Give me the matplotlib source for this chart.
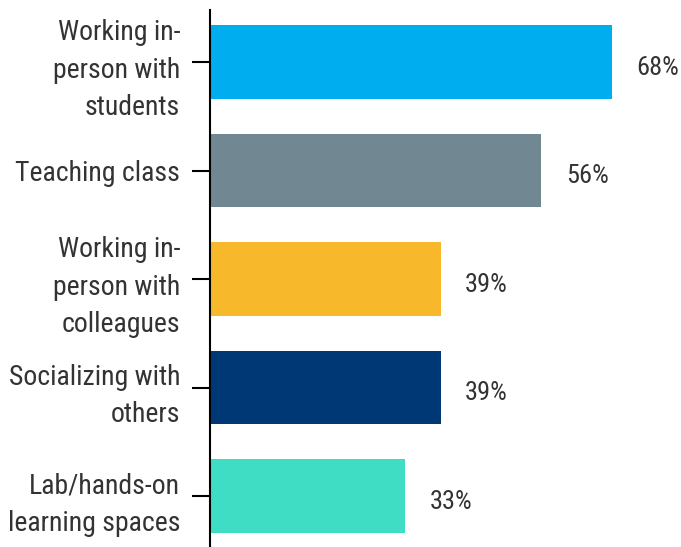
import numpy as np
import matplotlib.pyplot as plt

categories = ["Working in-\nperson with\nstudents", "Teaching class",
              "Working in-\nperson with\ncolleagues", "Socializing with\nothers",
              "Lab/hands-on\nlearning spaces"]
values = [68, 56, 39, 39, 33]
colors = ["#00AEEF", "#718792", "#F7B92B", "#003876", "#3EDDC4"]

fonts = ['Roboto Condensed', 'Liberation Sans Narrow', 'Roboto', 'DejaVu Sans']
plt.rcParams['font.family'] = fonts
text_color = "#333333"

fig = plt.figure(figsize=(6.81, 5.47), dpi=100)
ax = fig.add_axes([210 / 681, 0, 471 / 681, 537 / 547])

y = np.arange(len(categories))
bars = ax.barh(y, values, height=0.68, color=colors)

for b, v in zip(bars, values):
    ax.annotate(f"{v}%", (b.get_width(), b.get_y() + b.get_height() / 2),
                xytext=(17.5, -4), textcoords="offset points", va="center", ha="left",
                fontsize=19, color=text_color)

ax.set_yticks(y)
ax.set_yticklabels(categories, fontsize=20, color=text_color, linespacing=1.5)
ax.set_xlim(0, 79.6)
ax.set_ylim(4.47, -0.48)
ax.set_xticks([])
for s in ["top", "right", "bottom"]:
    ax.spines[s].set_visible(False)
ax.spines["left"].set_linewidth(1.5)
ax.tick_params(axis="y", length=13, width=1.5, pad=8.5)

fig.savefig("out.png", dpi=100)
